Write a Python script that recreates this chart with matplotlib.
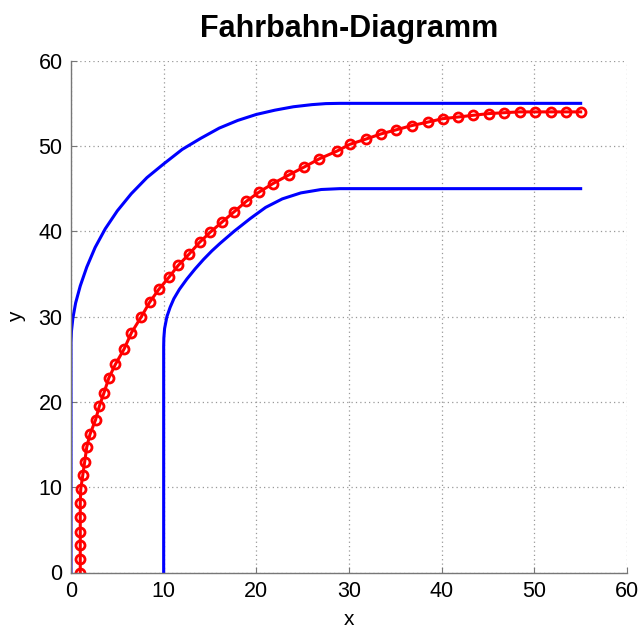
import matplotlib
matplotlib.use("Agg")
import matplotlib.pyplot as plt

#%% Data
# outer road edge (blue)
outer_x = [0, 0, 0.05, 0.2, 0.5, 1.0, 1.7, 2.6, 3.7, 5.0, 6.5, 8.2, 10.0,
           12.0, 14.0, 16.0, 18.0, 20.0, 22.0, 24.0, 26.0, 27.5, 29.0, 55.0]
outer_y = [0, 27.0, 28.3, 29.8, 31.6, 33.6, 35.8, 38.1, 40.3, 42.4, 44.4,
           46.3, 47.9, 49.6, 50.9, 52.1, 53.0, 53.7, 54.2, 54.6, 54.85,
           54.97, 55.0, 55.0]

# inner road edge (blue)
inner_x = [10, 10, 10.02, 10.1, 10.35, 10.7, 11.1, 11.7, 12.5, 13.4, 14.3,
           15.2, 16.1, 17.6, 19.35, 21.0, 22.8, 24.8, 27.0, 29.0, 55.0]
inner_y = [0, 26.5, 27.5, 28.6, 30.0, 31.1, 32.1, 33.2, 34.4, 35.6, 36.7,
           37.7, 38.6, 40.0, 41.5, 42.8, 43.8, 44.5, 44.9, 45.0, 45.0]

# driven path (red, with markers)
path_x = [1.0, 1.0, 1.0, 1.0, 1.0, 1.0, 1.05, 1.27, 1.48, 1.70, 2.05, 2.65,
          3.06, 3.57, 4.08, 4.79, 5.73, 6.52, 7.54, 8.5, 9.48, 10.56, 11.57,
          12.72, 13.87, 15.03, 16.32, 17.62, 18.9, 20.3, 21.8, 23.5, 25.1,
          26.8, 28.7, 30.1, 31.8, 33.4, 35.1, 36.8, 38.5, 40.1, 41.8, 43.4,
          45.1, 46.7, 48.4, 50.1, 51.8, 53.4, 55.0]
path_y = [0.0, 1.6, 3.2, 4.8, 6.5, 8.1, 9.75, 11.4, 13.0, 14.7, 16.2, 17.9,
          19.5, 21.1, 22.8, 24.4, 26.2, 28.1, 29.9, 31.7, 33.2, 34.6, 36.0,
          37.3, 38.7, 39.9, 41.1, 42.3, 43.5, 44.6, 45.6, 46.6, 47.5, 48.5,
          49.4, 50.2, 50.8, 51.4, 51.9, 52.4, 52.8, 53.2, 53.4, 53.6, 53.8,
          53.9, 54.0, 54.0, 54.0, 54.0, 54.0]

ticks = [0, 10, 20, 30, 40, 50, 60]

#%% Plotting
plt.rcParams['font.family'] = ['Liberation Sans', 'DejaVu Sans']

fig = plt.figure(figsize=(6.4, 6.29), dpi=100)
ax = fig.add_axes([71/640, 1 - 572.5/629, (627 - 71)/640, (572.5 - 60.7)/629])

ax.plot(outer_x, outer_y, color='#0000ff', linewidth=2.2)
ax.plot(inner_x, inner_y, color='#0000ff', linewidth=2.2)
ax.plot(path_x, path_y, color='#ff0000', linewidth=2.2, marker='o',
        markersize=6.5, markerfacecolor='none', markeredgewidth=2.0)

ax.set_xlim(0, 60)
ax.set_ylim(0, 60)
ax.set_xticks(ticks)
ax.set_yticks(ticks)
ax.grid(True, linestyle=(0, (1, 2.5)), color='#999999', linewidth=0.9)

for s in ['top', 'right']:
    ax.spines[s].set_visible(False)
for s in ['left', 'bottom']:
    ax.spines[s].set_color('#777777')
    ax.spines[s].set_linewidth(1.0)

ax.tick_params(direction='in', length=4, color='#777777', labelsize=15.5, pad=6)

ax.set_xlabel('x', fontsize=15, labelpad=6)
ax.set_ylabel('y', fontsize=15, labelpad=9)
ax.set_title('Fahrbahn-Diagramm', fontsize=22, fontweight='bold', pad=17)

fig.savefig('out.png', dpi=100)
